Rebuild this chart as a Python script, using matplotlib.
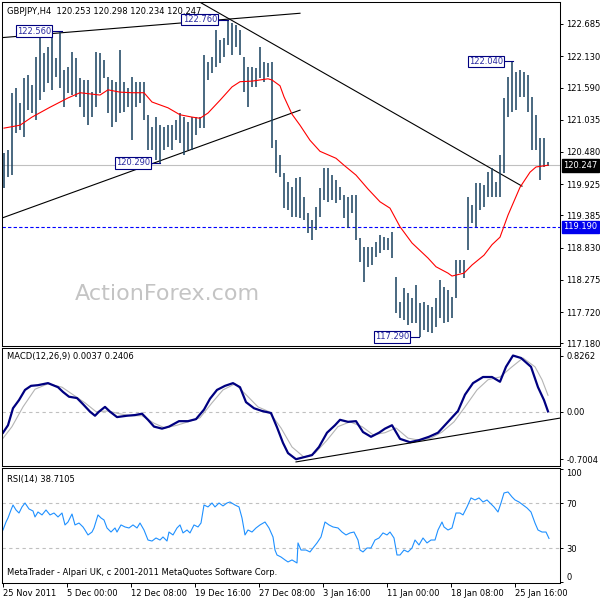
import matplotlib
matplotlib.use("Agg")
import matplotlib.pyplot as plt
import matplotlib.transforms as mtransforms

plt.rcParams.update({'font.family': 'DejaVu Sans', 'font.size': 6})

# H4 bars (every second bar), high / low
highs = [120.46, 120.51, 121.50, 121.58, 121.32, 121.75, 121.81, 121.63, 122.12, 122.53,
         122.19, 122.29, 122.53, 122.10, 122.56, 121.89, 121.94, 122.20, 122.10, 121.75,
         121.72, 121.72, 121.51, 122.20, 122.19, 122.06, 121.77, 121.72, 121.69, 122.24,
         121.69, 121.58, 121.77, 121.69, 121.69, 121.69, 121.12, 120.91, 121.08, 120.94,
         120.91, 120.94, 120.94, 121.03, 121.15, 121.08, 121.00, 121.08, 121.08, 121.08,
         122.15, 122.03, 122.12, 122.58, 122.41, 122.44, 122.76, 122.70, 122.67, 122.58,
         122.12, 121.94, 121.94, 121.93, 122.29, 122.03, 122.01, 122.03, 120.68, 120.43,
         120.12, 119.96, 119.87, 120.03, 120.05, 119.70, 119.43, 119.31, 119.53, 119.86,
         120.20, 120.20, 120.08, 120.00, 119.87, 119.74, 119.70, 119.74, 119.74, 119.00,
         118.84, 118.84, 118.84, 118.93, 119.05, 119.01, 119.00, 119.10, 118.32, 117.89,
         118.13, 118.05, 117.96, 118.19, 117.87, 117.89, 117.84, 117.81, 117.96, 118.27,
         118.15, 118.10, 117.98, 118.62, 118.62, 118.62, 119.70, 119.56, 119.94, 119.94,
         119.91, 120.13, 120.20, 119.96, 120.43, 121.41, 121.77, 122.04, 121.86, 121.89,
         121.86, 121.81, 121.43, 121.12, 120.72, 120.72, 120.298]
lows = [119.86, 120.05, 120.08, 120.81, 120.86, 120.74, 121.20, 121.15, 121.03, 121.37,
        121.51, 121.67, 121.55, 121.77, 121.58, 121.25, 121.50, 121.46, 121.43, 121.25,
        121.08, 120.94, 121.08, 121.25, 121.50, 121.75, 121.15, 120.91, 121.00, 121.15,
        121.17, 121.25, 120.68, 121.25, 121.32, 121.03, 120.51, 120.51, 120.34, 120.29,
        120.51, 120.56, 120.51, 120.68, 120.63, 120.43, 120.51, 120.51, 120.77, 120.89,
        120.89, 121.72, 121.84, 121.94, 122.01, 122.12, 122.32, 122.15, 122.29, 122.15,
        121.51, 121.25, 121.60, 121.60, 121.75, 121.69, 121.77, 120.55, 120.12, 120.05,
        119.51, 119.48, 119.36, 119.36, 119.34, 119.31, 119.08, 118.96, 119.13, 119.36,
        119.65, 119.62, 119.65, 119.60, 119.65, 119.34, 119.17, 119.43, 118.96, 118.58,
        118.24, 118.50, 118.53, 118.67, 118.74, 118.79, 118.79, 118.65, 117.70, 117.62,
        117.58, 117.50, 117.53, 117.53, 117.29, 117.41, 117.38, 117.36, 117.46, 117.62,
        117.53, 117.55, 117.62, 117.96, 118.39, 118.31, 118.79, 119.25, 119.19, 119.48,
        119.53, 119.70, 119.70, 119.70, 119.70, 120.12, 121.08, 121.17, 121.20, 121.43,
        121.43, 121.17, 120.51, 120.51, 120.00, 120.22, 120.234]

# moving average (red)
ma_x = [0, 4, 7, 11.5, 16, 19, 21.5, 24, 26, 29, 32, 35, 37, 41, 44, 47, 49, 51, 54, 57,
        59, 62, 66, 67, 69, 70, 72, 74, 76.5, 79, 83, 85, 88, 91, 94, 96.5, 99, 102, 106,
        108, 111, 112, 115, 117, 120, 122, 124, 126, 129, 131.5, 133, 136]
ma_y = [120.89, 120.94, 121.08, 121.25, 121.41, 121.50, 121.48, 121.46, 121.55, 121.51,
        121.50, 121.50, 121.34, 121.24, 121.12, 121.08, 121.06, 121.15, 121.37, 121.60,
        121.69, 121.70, 121.74, 121.72, 121.62, 121.43, 121.13, 120.94, 120.68, 120.49,
        120.37, 120.25, 120.08, 119.84, 119.62, 119.51, 119.19, 118.91, 118.65, 118.50,
        118.39, 118.34, 118.39, 118.53, 118.70, 118.88, 119.01, 119.39, 119.87, 120.13,
        120.22, 120.25]

# trend lines (bar index, price)
tl_top = ([-0.5, 74], [122.45, 122.87])
tl_rise = ([-0.5, 74], [119.34, 121.20])
tl_fall = ([49, 129.5], [123.06, 119.89])

price_ticks = [122.685, 122.130, 121.590, 121.035, 120.480, 119.925, 119.385,
               118.830, 118.275, 117.720, 117.180]
last_price = 120.247
level_price = 119.190

# marked highs / lows: (text, box end index, bar index, price)
marks = [("122.560", 11.75, 14.5, 122.56), ("122.760", 53.25, 56, 122.76),
         ("120.290", 36.5, 39, 120.29), ("122.040", 124.75, 127.25, 122.04),
         ("117.290", 101.25, 103.75, 117.29)]

# MACD
macd_x = [-0.25, 1, 2.25, 3.75, 5.25, 6.75, 8.5, 11, 13.5, 14.75, 16.25, 18.25, 19.75, 21.5,
          22.75, 23.75, 25.25, 26.5, 28.25, 30.75, 32.75, 34.5, 36, 37.5, 39.5, 41.25, 43.75,
          46, 48, 50, 51.5, 53.25, 55.25, 57.25, 59, 60.5, 62.5, 64.5, 66.75, 68.25, 69.75,
          71, 73, 75, 77, 78.75, 80.75, 82.75, 84, 86, 88, 89.75, 91.75, 93.75, 95.25, 97,
          99, 101.5, 103.75, 106.25, 108.5, 111, 113.5, 115.25, 117.25, 119.75, 122, 124,
          125.5, 127.25, 129.25, 131.75, 133.5, 135, 136]
macd_v = [-0.31, -0.20, 0.05, 0.17, 0.32, 0.38, 0.39, 0.42, 0.36, 0.29, 0.22, 0.20, 0.11, 0.00,
          -0.06, 0.00, 0.07, 0.00, -0.08, -0.06, -0.05, -0.03, -0.12, -0.22, -0.25, -0.22, -0.14,
          -0.14, -0.11, 0.03, 0.19, 0.32, 0.38, 0.42, 0.36, 0.14, 0.05, 0.01, -0.02, -0.23, -0.46,
          -0.61, -0.70, -0.67, -0.64, -0.52, -0.31, -0.20, -0.12, -0.15, -0.14, -0.30, -0.37,
          -0.31, -0.25, -0.20, -0.40, -0.45, -0.42, -0.37, -0.31, -0.15, 0.01, 0.25, 0.42, 0.51,
          0.51, 0.44, 0.66, 0.826, 0.79, 0.66, 0.36, 0.17, 0.0037]
sig_x = [-1, 2, 4.75, 7.75, 11, 14.5, 17.25, 20.25, 23, 26, 28.75, 31.75, 34.5, 37.5, 40.25,
         43.25, 46, 49, 52, 54.75, 57.75, 60.5, 63.5, 66.25, 69.25, 72, 75, 77.75, 80.75, 83.5,
         86.5, 89.5, 92.25, 95.25, 98, 101, 103.75, 106.75, 109.5, 112.5, 115.25, 118.25, 121,
         124, 127, 129.75, 132.75, 134.5, 136]
sig_v = [-0.45, -0.22, 0.07, 0.33, 0.41, 0.36, 0.25, 0.13, 0.00, 0.01, -0.03, -0.06, -0.06,
         -0.17, -0.24, -0.20, -0.15, -0.09, 0.13, 0.32, 0.41, 0.25, 0.07, 0.00, -0.24, -0.52,
         -0.67, -0.61, -0.42, -0.22, -0.15, -0.22, -0.34, -0.31, -0.24, -0.39, -0.42, -0.39,
         -0.30, -0.15, 0.07, 0.32, 0.47, 0.51, 0.66, 0.79, 0.66, 0.47, 0.2406]
macd_tl = ([73, 139.5], [-0.74, -0.09])
macd_ticks = [0.8262, 0.0, -0.7004]
macd_tick_labels = ['0.8262', '0.00', '-0.7004']

# RSI(14)
rsi_x = [-0.25, 0.5, 1, 1.75, 2.25, 3, 3.75, 4.5, 5.25, 6.25, 7.25, 7.75, 8.5, 9.5, 10.5, 11.5,
         12.5, 13.5, 14.5, 15.25, 16, 17, 17.75, 18.75, 19.75, 20.25, 21, 22, 22.5, 23.5, 24.25,
         25, 25.75, 26.75, 27.75, 28.25, 29.25, 30.25, 31.25, 32.25, 33.25, 34, 35, 36, 37, 38,
         39, 39.75, 40.75, 41.25, 42.25, 43.25, 44, 44.75, 45.75, 46.5, 47.5, 48.5, 49.25, 50,
         51, 52, 52.75, 53.75, 54.75, 55.75, 56.5, 57.75, 58.75, 59.5, 60.25, 61, 62, 63, 64,
         65.25, 66.25, 67.25, 67.75, 68.25, 69.25, 70.25, 71, 72, 73.25, 73.5, 74.25, 75.5, 76.5,
         77.25, 78.25, 79.25, 80.25, 81.25, 82.25, 83.5, 84.5, 85.5, 86.5, 87.5, 88.5, 89, 89.75,
         90.75, 91.75, 92.75, 93.75, 94.75, 95.75, 96.5, 97.5, 98.25, 99, 100, 101, 102, 102.75,
         103.75, 104.75, 105.75, 106.75, 107.75, 108.5, 109.5, 110, 111, 112, 113, 114, 114.75,
         115.75, 116.75, 117.75, 118.75, 119.75, 120.75, 121.5, 122.5, 123.5, 124.25, 125, 126,
         127, 127.75, 128.75, 129.75, 130.75, 131.75, 132.75, 133.5, 134.5, 135.5, 136.25]
rsi_v = [46.2, 53.3, 56.9, 64.0, 68.4, 64.0, 61.3, 66.7, 70.2, 64.9, 63.1, 57.8, 62.2, 59.6, 64.0,
         59.6, 61.3, 57.8, 61.3, 50.7, 53.3, 60.4, 50.7, 52.4, 48.9, 46.2, 41.8, 44.4, 48.0, 59.6,
         56.9, 55.1, 48.0, 44.4, 48.0, 44.4, 50.7, 48.9, 48.0, 50.7, 48.0, 52.4, 46.2, 37.3, 36.4,
         39.1, 37.3, 40.0, 36.4, 44.4, 41.8, 48.0, 50.7, 43.6, 46.2, 43.6, 50.7, 48.9, 52.4, 68.4,
         66.7, 70.2, 66.7, 70.2, 67.6, 70.2, 71.1, 68.4, 66.7, 56.9, 41.8, 46.2, 44.4, 48.0, 50.7,
         53.3, 48.0, 40.0, 28.4, 24.0, 22.2, 19.6, 17.8, 19.6, 16.9, 34.7, 28.4, 28.4, 26.7, 30.2,
         34.7, 40.0, 53.3, 50.7, 48.9, 48.0, 44.4, 41.8, 43.6, 44.4, 37.3, 28.4, 26.7, 30.2, 30.2,
         37.3, 39.1, 43.6, 41.8, 44.4, 39.1, 24.0, 24.0, 28.4, 26.7, 30.2, 37.3, 32.9, 39.1, 34.7,
         37.3, 37.3, 46.2, 53.3, 48.9, 46.2, 48.0, 61.3, 61.3, 59.6, 66.7, 74.7, 72.9, 74.7, 71.1,
         72.9, 70.2, 66.7, 62.2, 70.2, 79.1, 80.0, 75.6, 72.9, 71.1, 68.4, 65.8, 62.2, 52.4, 46.2,
         44.4, 44.4, 38.71]

date_pos = [-0.25, 15.75, 31.75, 47.75, 63.75, 79.75, 95.75, 111.75, 127.75]
date_labels = ['25 Nov 2011', '5 Dec 00:00', '12 Dec 08:00', '19 Dec 16:00', '27 Dec 08:00',
               '3 Jan 16:00', '11 Jan 00:00', '18 Jan 08:00', '25 Jan 16:00']

BAR = '#17405e'
NAVY = '#000080'

fig = plt.figure(figsize=(6, 6), dpi=100)
ax_p = fig.add_axes([2/600, 1-346/600, 558/600, 344/600])
ax_m = fig.add_axes([2/600, 1-466/600, 558/600, 118/600])
ax_r = fig.add_axes([2/600, 1-583/600, 558/600, 115/600])

for ax in (ax_p, ax_m, ax_r):
    ax.set_xlim(-0.5, 139)
    ax.yaxis.tick_right()
    ax.tick_params(axis='y', direction='out', length=2.5, width=0.7, pad=2, labelsize=6)
    for s in ax.spines.values():
        s.set_linewidth(0.75)
        s.set_color('black')

# price panel
ax_p.set_ylim(117.134, 123.064)
ax_p.axhline(last_price, color='#c0c0c0', lw=0.8, zorder=1)
ax_p.axhline(level_price, color='#0000ff', lw=0.8, ls=(0, (3, 2)), zorder=1)
ax_p.plot(*tl_top, color='black', lw=0.8)
ax_p.plot(*tl_rise, color='black', lw=0.8)
ax_p.plot(*tl_fall, color='black', lw=0.8)
ax_p.vlines(range(len(highs)), lows, highs, color=BAR, lw=1.1, zorder=3)
ax_p.plot(ma_x, ma_y, color='red', lw=0.8, zorder=4)

for txt, xb, xbar, pr in marks:
    ax_p.plot([xb, xbar], [pr, pr], color=NAVY, lw=0.8, zorder=5)
    ax_p.text(xb, pr, txt, ha='right', va='center', color='#2a2aa0', fontsize=6, zorder=6,
              bbox=dict(boxstyle='square,pad=0.15', fc='white', ec=NAVY, lw=0.8))

ax_p.set_xticks([])
ax_p.set_yticks(price_ticks, [f"{v:.3f}" for v in price_ticks])

tr = mtransforms.blended_transform_factory(ax_p.transAxes, ax_p.transData)
ax_p.text(1.006, last_price, f"{last_price:.3f}", transform=tr, ha='left', va='center',
          color='white', fontsize=6, bbox=dict(boxstyle='square,pad=0.2', fc='black', ec='black'))
ax_p.text(1.006, level_price, f"{level_price:.3f}", transform=tr, ha='left', va='center',
          color='white', fontsize=6, bbox=dict(boxstyle='square,pad=0.2', fc='#0000ee', ec='#0000ee'))

ax_p.text(0.009, 0.971, "GBPJPY,H4  120.253 120.298 120.234 120.247", transform=ax_p.transAxes,
          ha='left', va='center', fontsize=6)
ax_p.text(0.296, 0.151, "ActionForex.com", transform=ax_p.transAxes, ha='center', va='center',
          fontsize=16, color='#c4c4c4', zorder=0)

# MACD panel
ax_m.set_ylim(-0.80, 0.937)
ax_m.axhline(0, color='#c0c0c0', lw=0.8, ls=(0, (3, 3)))
ax_m.plot(sig_x, sig_v, color='#b4b4b4', lw=0.8)
ax_m.plot(macd_x, macd_v, color=NAVY, lw=1.6)
ax_m.plot(*macd_tl, color='black', lw=0.8)
ax_m.set_xticks([])
ax_m.set_yticks(macd_ticks, macd_tick_labels)
ax_m.text(0.009, 0.924, "MACD(12,26,9) 0.0037 0.2406", transform=ax_m.transAxes,
          ha='left', va='center', fontsize=6)

# RSI panel
ax_r.set_ylim(-0.9, 101.3)
ax_r.axhline(70, color='#c0c0c0', lw=0.8, ls=(0, (3, 3)))
ax_r.axhline(30, color='#c0c0c0', lw=0.8, ls=(0, (3, 3)))
ax_r.plot(rsi_x, rsi_v, color='#1e90ff', lw=0.8)
ax_r.set_yticks([100, 70, 30, 0], ['100', '70', '30', '0'])
ylabs = ax_r.get_yticklabels()
ylabs[0].set_va('top')
ylabs[-1].set_va('bottom')
ax_r.set_xticks(date_pos, date_labels)
for lab in ax_r.get_xticklabels():
    lab.set_ha('left')
ax_r.tick_params(axis='x', direction='out', length=3, width=0.7, pad=1.5, labelsize=6)
ax_r.text(0.009, 0.896, "RSI(14) 38.7105", transform=ax_r.transAxes, ha='left', va='center',
          fontsize=6)
ax_r.text(0.009, 0.087, "MetaTrader - Alpari UK, c 2001-2011 MetaQuotes Software Corp.",
          transform=ax_r.transAxes, ha='left', va='center', fontsize=6)

fig.savefig("out.png", dpi=100)
